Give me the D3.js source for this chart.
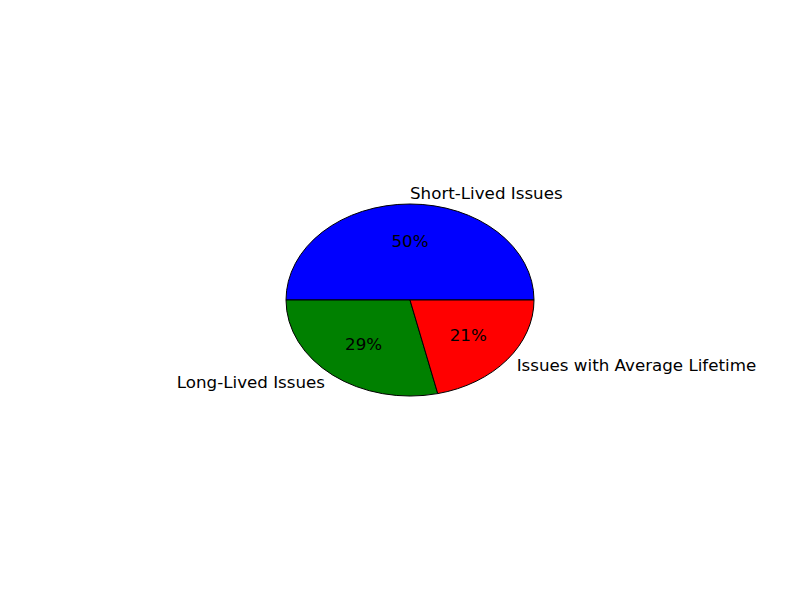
<!DOCTYPE html>
<html>
<head>
<meta charset="utf-8">
<script src="https://d3js.org/d3.v7.min.js"></script>
<style>
  body { margin: 0; background: #fff; }
  text { font-family: "DejaVu Sans", sans-serif; font-size: 16.7px; fill: #000; }
</style>
</head>
<body>
<div id="chart"></div>
<script>
var labels = ["Short-Lived Issues", "Long-Lived Issues", "Issues with Average Lifetime"];
var values = [50, 28.6, 21.4];
var colors = ["#0000ff", "#008000", "#ff0000"];

var width = 800, height = 600;

// the pie is squashed into an ellipse, so map unit coords to pixels
var x = d3.scaleLinear().domain([-1, 1]).range([286, 534]);
var y = d3.scaleLinear().domain([-1, 1]).range([396, 204]);

var svg = d3.select("#chart")
  .append("svg")
    .attr("width", width)
    .attr("height", height);

// counter-clockwise from 3 o'clock, like matplotlib
var pie = d3.pie()
  .sort(null)
  .startAngle(Math.PI / 2)
  .endAngle(Math.PI / 2 - 2 * Math.PI);

var arcs = pie(values);
var total = d3.sum(values);
var arc = d3.arc().innerRadius(0).outerRadius(1);

var g = svg.append("g")
  .attr("transform", "translate(" + x(0) + "," + y(0) + ") scale(" +
        (x(1) - x(0)) + "," + (y(-1) - y(0)) + ")");

g.selectAll("path")
  .data(arcs)
  .enter().append("path")
    .attr("d", arc)
    .attr("fill", function(d, i) { return colors[i]; })
    .attr("stroke", "#000")
    .attr("stroke-width", 1)
    .attr("vector-effect", "non-scaling-stroke");

function mid(d) { return (d.startAngle + d.endAngle) / 2; }

// outer labels
svg.selectAll("text.label")
  .data(arcs)
  .enter().append("text")
    .attr("class", "label")
    .attr("x", function(d) { return x(1.1 * Math.sin(mid(d))); })
    .attr("y", function(d) { return y(1.1 * Math.cos(mid(d))) - 1; })
    .attr("dominant-baseline", "central")
    .attr("text-anchor", function(d) { return Math.sin(mid(d)) >= -1e-9 ? "start" : "end"; })
    .text(function(d, i) { return labels[i]; });

// percentages
svg.selectAll("text.pct")
  .data(arcs)
  .enter().append("text")
    .attr("class", "pct")
    .attr("x", function(d) { return x(0.6 * Math.sin(mid(d))); })
    .attr("y", function(d) { return y(0.6 * Math.cos(mid(d))) - 1; })
    .attr("dominant-baseline", "central")
    .attr("text-anchor", "middle")
    .text(function(d) { return d3.format(".0f")(d.value / total * 100) + "%"; });
</script>
</body>
</html>
